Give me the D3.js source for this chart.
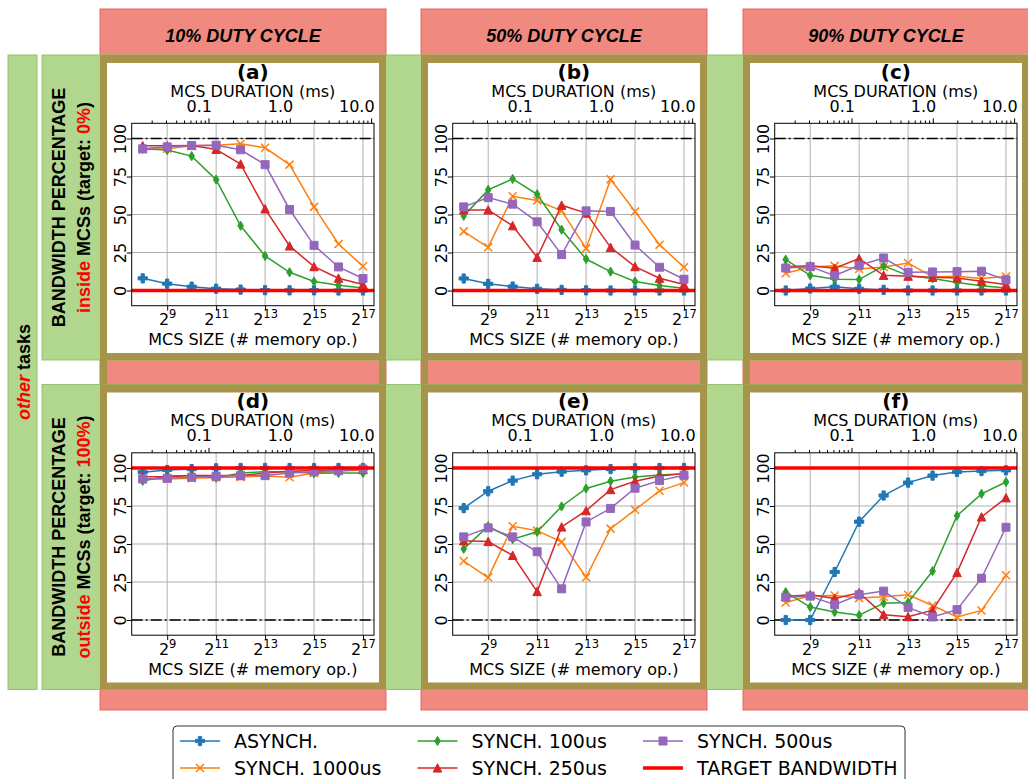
<!DOCTYPE html>
<html>
<head>
<meta charset="utf-8">
<script src="https://cdn.jsdelivr.net/npm/d3@7"></script>
<style>
  body { margin: 0; background: #fff; }
  svg { display: block; }
</style>
</head>
<body>
<script>
// x = log2(MCS size)
var sizesLog2 = [8, 9, 10, 11, 12, 13, 14, 15, 16, 17];
var xTicks = [9, 11, 13, 15, 17];
var yTicks = [0, 25, 50, 75, 100];
var msMajor = [0.1, 1, 10];
var msMinor = [0.02, 0.03, 0.04, 0.05, 0.06, 0.07, 0.08, 0.09,
               0.2, 0.3, 0.4, 0.5, 0.6, 0.7, 0.8, 0.9,
               2, 3, 4, 5, 6, 7, 8, 9];

var seriesNames = ["ASYNCH.", "SYNCH. 1000us", "SYNCH. 100us", "SYNCH. 250us", "SYNCH. 500us"];
var seriesColors = ["#1f77b4", "#ff7f0e", "#2ca02c", "#d62728", "#9467bd"];
var seriesMarkers = ["plus", "x", "diamond", "triangle", "square"];

var dutyLabels = ["10% DUTY CYCLE", "50% DUTY CYCLE", "90% DUTY CYCLE"];
var panelLetters = ["(a)", "(b)", "(c)", "(d)", "(e)", "(f)"];
var rowTargets = [0, 100];

// 各パネルの値 (順番: ASYNCH, 1000us, 100us, 250us, 500us)
var valsA = [
  [8, 4.5, 2.5, 1.2, 0.6, 0.2, 0.1, 0.1, 0, 0],
  [92.8, 93.2, 95.2, 95.6, 96.5, 93.9, 82.8, 55, 30.6, 15.9],
  [93.2, 92.4, 88.4, 72.9, 42.6, 22.7, 12, 5.9, 3.5, 1.7],
  [95.2, 95.2, 95.4, 92.8, 83.2, 53.7, 29.3, 15.7, 8.1, 3.9],
  [93.2, 94.5, 95.4, 95.6, 92.6, 82.8, 53.3, 29.7, 15.5, 7.9]
];
var valsB = [
  [7.9, 4.4, 2.6, 1.1, 0.4, 0.1, 0, 0, 0, 0],
  [38.9, 28.4, 62, 59.2, 52.4, 27.7, 73.1, 52, 30.1, 15.3],
  [49.1, 66.2, 73.4, 63.3, 40, 20.7, 12.4, 5.9, 3.3, 1.5],
  [53, 53, 42.6, 21.8, 56.1, 50.9, 28.4, 15.7, 8.1, 3.9],
  [55, 61.1, 56.8, 45.2, 23.6, 52.4, 52, 29.9, 15.3, 7.4]
];
var valsC = [
  [0, 1.3, 2.4, 1.1, 0.4, 0, 0, 0, 0, 0],
  [11.4, 15.5, 16.2, 14.2, 15.5, 18.1, 9, 9.4, 7.9, 9.2],
  [20.3, 10, 7.4, 7.2, 16.2, 9.8, 7.9, 5.2, 3.1, 1.7],
  [15.7, 16.2, 14.6, 21, 10, 9.4, 8.7, 8.3, 6.1, 3.9],
  [14.8, 15.7, 9.8, 16.6, 21.4, 12, 12.2, 12.4, 12.7, 7]
];
var valsD = [
  [97.2, 98.7, 99.3, 99.8, 100, 100, 100, 100, 100, 100],
  [92.6, 92.8, 93.2, 93.7, 94.1, 94.8, 93.9, 96.7, 97.8, 98.7],
  [91.5, 94.8, 95, 93.5, 96.7, 97.6, 97.6, 96.5, 96.7, 96.7],
  [94.3, 94.3, 95, 95, 95, 96.7, 97.8, 98.3, 98.7, 99],
  [92.8, 93.2, 93.9, 94.6, 95, 95, 96.7, 97.6, 98.3, 99.3]
];
var valsE = [
  [73.6, 84.7, 91.7, 95.9, 97.6, 98.5, 99.3, 99.8, 100, 100],
  [38.8, 27.9, 61.7, 58.8, 51.4, 28.1, 60.1, 72.5, 85, 90.4],
  [46.8, 61.7, 53.2, 58, 74.7, 86.5, 91.3, 94.1, 95.4, 96.3],
  [52.1, 51.6, 42.5, 18.7, 61.2, 71.9, 85.8, 91.3, 94.8, 96.3],
  [54.7, 60.6, 54.7, 44.9, 20.5, 64.5, 73.4, 86.7, 91.7, 95.2]
];
var valsF = [
  [0, 0, 31.6, 64.7, 81.9, 90.4, 95, 97.4, 98, 98.5],
  [11.5, 15.9, 16.1, 14.4, 15.3, 16.6, 9.5, 2, 6.3, 29.4],
  [18.3, 8.5, 5.2, 3.1, 11.1, 11.5, 32.2, 68.6, 83, 90.8],
  [15.5, 16.6, 14.2, 17.9, 3.5, 2.2, 6.5, 31.2, 67.8, 80.4],
  [15, 15.7, 10, 16.6, 19, 8.3, 2, 6.8, 27.5, 61]
];
var panelData = [valsA, valsB, valsC, valsD, valsE, valsF];

// レイアウト
var colX = [100, 421, 743], colW = 286;
var rowY = [55, 384.5], rowH = 305;
var axL = 31.7, axT = 68.3, axW = 242.3, axH = 182.4;
var mplFont = "'DejaVu Sans', sans-serif";
var arialFont = "'Liberation Sans', Arial, sans-serif";

var RED_BAND = "#f08a80", GREEN_BAND = "#b1d68e", OLIVE = "#a6944a";

var svg = d3.select("body").append("svg")
    .attr("width", 1028)
    .attr("height", 779);

// 背景の帯
colX.forEach(function(cx) {
  svg.append("rect").attr("x", cx).attr("y", 9).attr("width", colW).attr("height", 701)
    .attr("fill", RED_BAND).attr("stroke", "#de6a62").attr("stroke-width", 1);
});
rowY.forEach(function(ry) {
  svg.append("rect").attr("x", 42).attr("y", ry).attr("width", 1000).attr("height", rowH)
    .attr("fill", GREEN_BAND).attr("stroke", "#93c36a").attr("stroke-width", 1);
});
svg.append("rect").attr("x", 8).attr("y", 55).attr("width", 29).attr("height", 634.5)
  .attr("fill", GREEN_BAND).attr("stroke", "#93c36a").attr("stroke-width", 1);

// 行間のオリーブ帯
colX.forEach(function(cx) {
  [cx, cx + colW - 7].forEach(function(sx) {
    svg.append("rect").attr("x", sx).attr("y", rowY[0] + rowH).attr("width", 7)
      .attr("height", rowY[1] - rowY[0] - rowH).attr("fill", OLIVE);
  });
});

// ヘッダー
dutyLabels.forEach(function(t, i) {
  svg.append("text")
    .attr("x", colX[i] + colW / 2).attr("y", 42)
    .attr("text-anchor", "middle")
    .style("font-family", arialFont).style("font-size", "18px")
    .style("font-weight", "bold").style("font-style", "italic")
    .text(t);
});

// 行ラベル
var rowLabel2 = [
  [["inside", "red"], [" MCSs (target: ", "black"], ["0%", "red"], [")", "black"]],
  [["outside", "red"], [" MCSs (target: ", "black"], ["100%", "red"], [")", "black"]]
];
rowY.forEach(function(ry, r) {
  var cy = ry + rowH / 2;
  svg.append("text")
    .attr("transform", "translate(65," + cy + ") rotate(-90)")
    .attr("text-anchor", "middle")
    .style("font-family", arialFont).style("font-size", "18px").style("font-weight", "bold")
    .text("BANDWIDTH PERCENTAGE");
  var t2 = svg.append("text")
    .attr("transform", "translate(89.5," + cy + ") rotate(-90)")
    .attr("text-anchor", "middle")
    .style("font-family", arialFont).style("font-size", "18px").style("font-weight", "bold");
  rowLabel2[r].forEach(function(p) {
    t2.append("tspan").attr("fill", p[1]).text(p[0]);
  });
});
var ot = svg.append("text")
  .attr("transform", "translate(29.5,372) rotate(-90)")
  .attr("text-anchor", "middle")
  .style("font-family", arialFont).style("font-size", "18px").style("font-weight", "bold");
ot.append("tspan").attr("fill", "red").style("font-style", "italic").text("other");
ot.append("tspan").text(" tasks");

// マーカー
function markerPath(type) {
  if (type == "plus") return "M-1.6,-4.6H1.6V-1.6H4.6V1.6H1.6V4.6H-1.6V1.6H-4.6V-1.6H-1.6Z";
  if (type == "x") return "M-4,-4L4,4M-4,4L4,-4";
  if (type == "diamond") return "M0,-4.6L2.8,0L0,4.6L-2.8,0Z";
  if (type == "triangle") return "M0,-4.3L4.3,4.1L-4.3,4.1Z";
  return "M-4,-4H4V4H-4Z";
}
function drawMarker(g, type, color) {
  g.append("path")
    .attr("d", markerPath(type))
    .attr("fill", type == "x" ? "none" : color)
    .attr("stroke", color)
    .attr("stroke-width", type == "x" ? 1.5 : 1);
}

// スケール
var xScale = d3.scaleLinear().domain([7.55, 17.45]).range([0, axW]);
var yScale = d3.scaleLinear().domain([-10, 110]).range([axH, 0]);
var MS_K = 16500;
var msScale = d3.scaleLog()
  .domain([Math.pow(2, 7.55) / MS_K, Math.pow(2, 17.45) / MS_K])
  .range([0, axW]);

var line = d3.line()
  .x(function(d) { return xScale(d[0]); })
  .y(function(d) { return yScale(d[1]); });

panelData.forEach(function(vals, idx) {
  var r = Math.floor(idx / 3), c = idx % 3;
  var px = colX[c], py = rowY[r];

  // 枠
  svg.append("rect").attr("x", px).attr("y", py).attr("width", colW).attr("height", rowH)
    .attr("fill", OLIVE);
  svg.append("rect").attr("x", px + 7).attr("y", py + 8).attr("width", colW - 14).attr("height", rowH - 15)
    .attr("fill", "#fff");

  var g = svg.append("g").attr("transform", "translate(" + (px + axL) + "," + (py + axT) + ")");

  // グリッド
  g.selectAll(".gy").data(yTicks).enter().append("line")
    .attr("x1", 0).attr("x2", axW)
    .attr("y1", function(d) { return yScale(d); }).attr("y2", function(d) { return yScale(d); })
    .attr("stroke", "#b0b0b0").attr("stroke-width", 1);
  g.selectAll(".gx").data(xTicks).enter().append("line")
    .attr("y1", 0).attr("y2", axH)
    .attr("x1", function(d) { return xScale(d); }).attr("x2", function(d) { return xScale(d); })
    .attr("stroke", "#b0b0b0").attr("stroke-width", 1);

  // 反対側の基準線 (一点鎖線)
  var other = r == 0 ? 100 : 0;
  g.append("line")
    .attr("x1", 0).attr("x2", axW)
    .attr("y1", yScale(other)).attr("y2", yScale(other))
    .attr("stroke", "#000").attr("stroke-width", 1.5)
    .attr("stroke-dasharray", "11,3,2,3");

  // 系列
  vals.forEach(function(v, si) {
    var pts = sizesLog2.map(function(x, i) { return [x, v[i]]; });
    g.append("path")
      .attr("d", line(pts))
      .attr("fill", "none")
      .attr("stroke", seriesColors[si])
      .attr("stroke-width", 1.5);
    pts.forEach(function(p) {
      var m = g.append("g").attr("transform", "translate(" + xScale(p[0]) + "," + yScale(p[1]) + ")");
      drawMarker(m, seriesMarkers[si], seriesColors[si]);
    });
  });

  // 目標帯域
  g.append("line")
    .attr("x1", 0).attr("x2", axW)
    .attr("y1", yScale(rowTargets[r])).attr("y2", yScale(rowTargets[r]))
    .attr("stroke", "#ff0000").attr("stroke-width", 3.3);

  // 軸
  g.append("rect").attr("width", axW).attr("height", axH)
    .attr("fill", "none").attr("stroke", "#000").attr("stroke-width", 1);

  var yAxis = g.append("g").call(d3.axisLeft(yScale).tickValues(yTicks).tickSize(4.9).tickSizeOuter(0));
  yAxis.select(".domain").remove();
  yAxis.selectAll("text")
    .attr("x", null).attr("dy", null)
    .attr("transform", "translate(-6,0) rotate(-90)")
    .attr("text-anchor", "middle")
    .style("font-family", mplFont).style("font-size", "16px").attr("fill", "#000");

  var xAxis = g.append("g").attr("transform", "translate(0," + axH + ")")
    .call(d3.axisBottom(xScale).tickValues(xTicks).tickSize(4.9).tickSizeOuter(0).tickFormat(""));
  xAxis.select(".domain").remove();
  xAxis.selectAll(".tick").each(function(d) {
    var t = d3.select(this).append("text")
      .attr("y", 19.5).attr("text-anchor", "middle").attr("fill", "#000")
      .style("font-family", mplFont).style("font-size", "16px");
    t.append("tspan").text("2");
    t.append("tspan").attr("dy", -7).style("font-size", "11.5px").text(d);
  });

  var topMinor = g.append("g")
    .call(d3.axisTop(msScale).tickValues(msMinor.filter(function(m) {
      return m > msScale.domain()[0] && m < msScale.domain()[1];
    })).tickSize(2.8).tickSizeOuter(0).tickFormat(""));
  topMinor.select(".domain").remove();

  var topMajor = g.append("g")
    .call(d3.axisTop(msScale).tickValues(msMajor).tickSize(4.9).tickSizeOuter(0).tickFormat(d3.format(".1f")));
  topMajor.select(".domain").remove();
  topMajor.selectAll("text")
    .attr("y", -11.5).attr("dy", null).attr("x", 3)
    .attr("text-anchor", "end")
    .style("font-family", mplFont).style("font-size", "16px").attr("fill", "#000");

  // ラベル
  g.append("text")
    .attr("x", axW / 2).attr("y", -26.5).attr("text-anchor", "middle")
    .style("font-family", mplFont).style("font-size", "16px")
    .text("MCS DURATION (ms)");
  g.append("text")
    .attr("x", axW / 2).attr("y", -44.5).attr("text-anchor", "middle")
    .style("font-family", mplFont).style("font-size", "20px").style("font-weight", "bold")
    .text(panelLetters[idx]);
  g.append("text")
    .attr("x", axW / 2).attr("y", axH + 39.5).attr("text-anchor", "middle")
    .style("font-family", mplFont).style("font-size", "16px")
    .text("MCS SIZE (# memory op.)");
});

// 凡例
var legend = svg.append("g");
legend.append("rect")
  .attr("x", 173).attr("y", 726).attr("width", 732).attr("height", 70).attr("rx", 4)
  .attr("fill", "#fff").attr("stroke", "#333").attr("stroke-width", 1);

var legendItems = seriesNames.map(function(n, i) {
  return { name: n, color: seriesColors[i], marker: seriesMarkers[i] };
});
legendItems.push({ name: "TARGET BANDWIDTH", color: "#ff0000", marker: null });
var legendColX = [180, 417.5, 643];
var legendRowY = [741, 768];

legendItems.forEach(function(it, i) {
  var col = Math.floor(i / 2), row = i % 2;
  var lx = legendColX[col], ly = legendRowY[row];
  legend.append("line")
    .attr("x1", lx).attr("x2", lx + 40).attr("y1", ly).attr("y2", ly)
    .attr("stroke", it.color).attr("stroke-width", it.marker ? 1.5 : 3.3);
  if (it.marker) {
    var m = legend.append("g").attr("transform", "translate(" + (lx + 20) + "," + ly + ")");
    drawMarker(m, it.marker, it.color);
  }
  legend.append("text")
    .attr("x", lx + 54).attr("y", ly + 7)
    .style("font-family", mplFont).style("font-size", "19px")
    .text(it.name);
});
</script>
</body>
</html>
